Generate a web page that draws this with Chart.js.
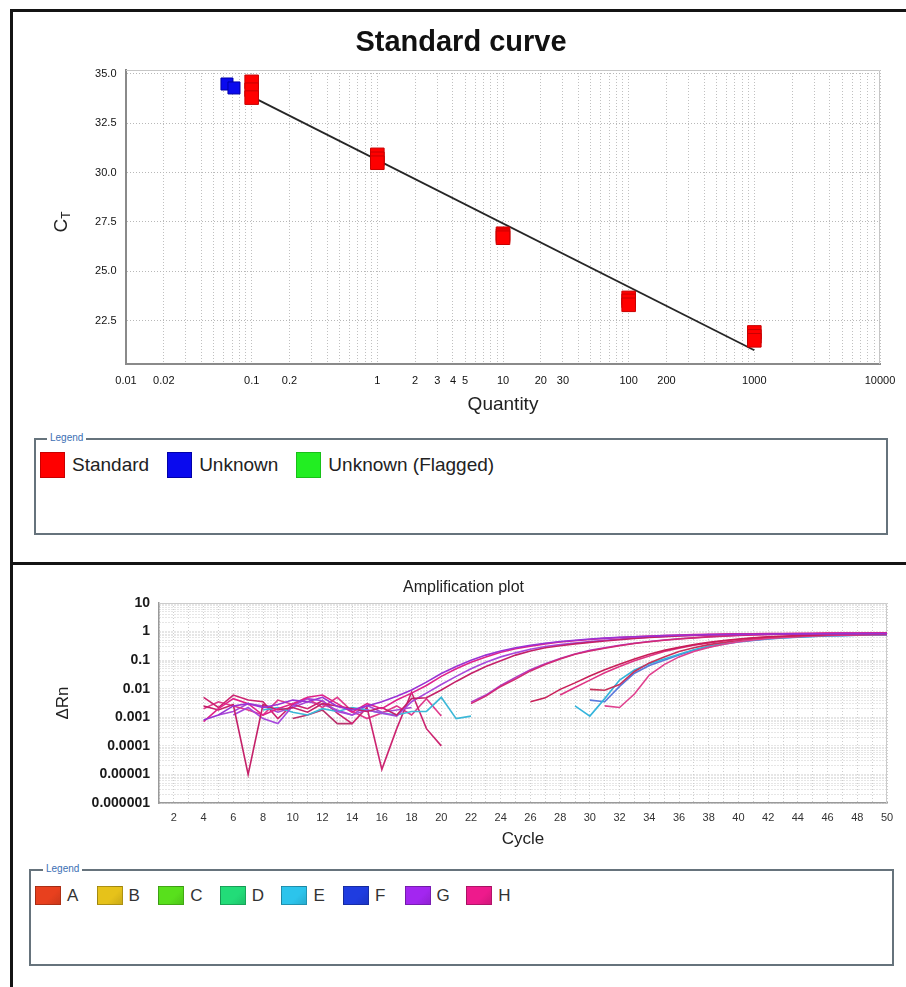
<!DOCTYPE html>
<html>
<head>
<meta charset="utf-8">
<title>Standard curve / Amplification plot</title>
<script src="https://cdn.jsdelivr.net/npm/chart.js@4.4.1/dist/chart.umd.min.js"></script>
<style>
  body { margin: 0; width: 906px; height: 987px; overflow: hidden; position: relative; background: #fff;
         font-family: "Liberation Sans", Arial, sans-serif; color: #222; }
  .rule { position: absolute; background: #141414; }
  canvas { position: absolute; left: 0; }
  .legendBox { position: absolute; box-sizing: border-box; border: 2px solid #66737c; }
  .legendCaption { position: absolute; background: #fff; padding: 0 3px; font-size: 10px; line-height: 12px; color: #3c6fb4; }
  .legendRow { position: absolute; display: flex; align-items: center; }
  .swatch { display: inline-block; box-sizing: border-box; }
</style>
</head>
<body>
<div class="rule" style="left:10px; top:9px; width:896px; height:3px;"></div>
<div class="rule" style="left:10px; top:9px; width:3px; height:978px;"></div>
<div class="rule" style="left:10px; top:562px; width:896px; height:3px;"></div>

<canvas id="stdChart" width="906" height="420" style="top:0;"></canvas>
<canvas id="ampChart" width="906" height="290" style="top:566px;"></canvas>

<div class="legendBox" style="left:34px; top:438px; width:854px; height:97px;"></div>
<div class="legendCaption" style="left:47px; top:432px;">Legend</div>
<div class="legendRow" id="stdLegend" style="left:40px; top:452px; height:26px;"></div>

<div class="legendBox" style="left:29px; top:869px; width:865px; height:97px;"></div>
<div class="legendCaption" style="left:43px; top:863px;">Legend</div>
<div id="ampLegend"></div>

<script>
// ---- standard curve data ----
const stdQuantity = [0.1, 0.1, 0.1, 1, 1, 1, 10, 10, 10, 100, 100, 100, 1000, 1000, 1000];
const stdCt = [34.6, 34.2, 33.8, 30.9, 30.7, 30.5, 26.9, 26.8, 26.7, 23.65, 23.5, 23.3, 21.9, 21.7, 21.5];
const unkQuantity = [0.0636, 0.0723];
const unkCt = [34.49, 34.29];
const fitQuantity = [0.1, 1000];
const fitCt = [33.85, 21.0];

const sampleTypes = ['Standard', 'Unknown', 'Unknown (Flagged)'];
const sampleColors = ['#ff0000', '#0a0aee', '#22ee22'];
const sampleEdges = ['#c80000', '#0000a8', '#18c018'];

const ctTicks = [22.5, 25.0, 27.5, 30.0, 32.5, 35.0];
const qtyLabelValues = [0.01, 0.02, 0.1, 0.2, 1, 2, 3, 4, 5, 10, 20, 30, 100, 200, 1000, 10000];
const qtyLabelText = ['0.01', '0.02', '0.1', '0.2', '1', '2', '3', '4', '5', '10', '20', '30', '100', '200', '1000', '10000'];

// ---- amplification data (delta Rn per cycle, starting at ampStart) ----
const rnG1 = [0.0008, 0.0012, 0.0025, 0.003, 0.0022, 0.0028, 0.004, 0.0035, 0.005, 0.0024, 0.0018, 0.0025, 0.0035, 0.0055, 0.009, 0.017, 0.034, 0.06, 0.1, 0.15, 0.21, 0.27, 0.33, 0.39, 0.45, 0.5, 0.55, 0.59, 0.63, 0.66, 0.69, 0.72, 0.74, 0.76, 0.78, 0.79, 0.8, 0.81, 0.82, 0.83, 0.83, 0.84, 0.84, 0.85, 0.85, 0.86, 0.86];
const rnH1 = [0.0007, 0.002, 0.0045, 0.003, 0.0012, 0.002, 0.003, 0.005, 0.006, 0.003, 0.0015, 0.003, 0.002, 0.004, 0.007, 0.013, 0.027, 0.05, 0.085, 0.13, 0.19, 0.25, 0.31, 0.37, 0.43, 0.48, 0.53, 0.58, 0.62, 0.66, 0.7, 0.73, 0.76, 0.78, 0.8, 0.82, 0.83, 0.84, 0.85, 0.86, 0.87, 0.87, 0.88, 0.88, 0.89, 0.89, 0.9];
const rnH2 = [0.0025, 0.0018, 0.0028, 0.00001, 0.0028, 0.0018, 0.0022, 0.0015, 0.003, 0.0025, 0.002, 0.0016, 0.0022, 0.0012, 0.0045, 0.0048, 0.009, 0.018, 0.034, 0.06, 0.095, 0.15, 0.21, 0.27, 0.32, 0.37, 0.42, 0.47, 0.52, 0.57, 0.62, 0.66, 0.7, 0.73, 0.76, 0.78, 0.8, 0.81, 0.82, 0.83, 0.84, 0.84, 0.85, 0.85, 0.86, 0.86, 0.86];
const rnG2 = [0.0012, 0.0022, 0.0009, 0.0006, 0.0025, 0.0045, 0.0038, 0.0016, 0.0012, 0.0018, 0.0014, 0.0011, 0.0035, 0.007, 0.014, 0.027, 0.05, 0.085, 0.13, 0.18, 0.24, 0.3, 0.35, 0.4, 0.45, 0.5, 0.55, 0.6, 0.64, 0.68, 0.72, 0.75, 0.77, 0.79, 0.8, 0.81, 0.82, 0.82, 0.83, 0.83, 0.84, 0.84, 0.84, 0.85, 0.85];
const rnH3 = [0.003, 0.0055, 0.012, 0.022, 0.042, 0.07, 0.11, 0.16, 0.21, 0.26, 0.32, 0.38, 0.44, 0.5, 0.55, 0.6, 0.65, 0.69, 0.73, 0.76, 0.79, 0.81, 0.83, 0.84, 0.85, 0.86, 0.86, 0.87, 0.87];
const rnG3 = [0.0034, 0.006, 0.013, 0.025, 0.046, 0.075, 0.115, 0.165, 0.22, 0.27, 0.33, 0.39, 0.45, 0.51, 0.56, 0.61, 0.66, 0.7, 0.74, 0.77, 0.8, 0.82, 0.84, 0.85, 0.86, 0.87, 0.87, 0.88, 0.88];
const rnH4 = [0.0035, 0.0048, 0.0095, 0.016, 0.028, 0.046, 0.072, 0.11, 0.16, 0.22, 0.28, 0.35, 0.42, 0.49, 0.55, 0.6, 0.65, 0.69, 0.72, 0.75, 0.77, 0.79, 0.8, 0.81, 0.82];
const rnH5 = [0.006, 0.011, 0.02, 0.036, 0.06, 0.095, 0.14, 0.2, 0.26, 0.33, 0.4, 0.47, 0.53, 0.59, 0.64, 0.68, 0.72, 0.75, 0.77, 0.79, 0.8, 0.81, 0.82];
const rnH6 = [0.0025, 0.0022, 0.0065, 0.03, 0.07, 0.13, 0.2, 0.28, 0.36, 0.44, 0.51, 0.57, 0.62, 0.66, 0.7, 0.73, 0.75, 0.77, 0.78, 0.79];
const rnH7 = [0.0095, 0.0088, 0.014, 0.04, 0.08, 0.13, 0.2, 0.27, 0.35, 0.42, 0.49, 0.55, 0.6, 0.64, 0.68, 0.71, 0.74, 0.76, 0.78, 0.79, 0.8];
const rnE1 = [0.0018, 0.0022, 0.0015, 0.0012, 0.002, 0.0016, 0.0022, 0.0018, 0.0014, 0.0012, 0.0016, 0.0016, 0.005, 0.0009, 0.0011];
const rnE2 = [0.0025, 0.0011, 0.0045, 0.02, 0.045, 0.075, 0.11, 0.16, 0.23, 0.31, 0.38, 0.45, 0.51, 0.56, 0.61, 0.65, 0.68, 0.71, 0.73, 0.75, 0.76, 0.77];
const rnF1 = [0.004, 0.0035, 0.012, 0.035, 0.065, 0.1, 0.15, 0.22, 0.29, 0.36, 0.43, 0.49, 0.55, 0.6, 0.64, 0.67, 0.7, 0.72, 0.74, 0.75, 0.76];
const rnH8 = [0.005, 0.0022, 0.006, 0.004, 0.0035, 0.0009, 0.0028, 0.002, 0.0038, 0.0014, 0.0006, 0.0022, 0.000015, 0.0004, 0.0075, 0.0004, 0.0001];
const rnH9 = [0.0009, 0.0012, 0.0018, 0.0006, 0.0006];
const rnH10 = [0.002, 0.0035, 0.0025, 0.0018, 0.0012, 0.004, 0.0028, 0.0045, 0.0022, 0.005, 0.0016, 0.0009, 0.0014, 0.0025, 0.0012, 0.0045, 0.0011];
const rnG4 = [0.0012, 0.0016, 0.003, 0.0025, 0.0015, 0.0022, 0.0035, 0.0028, 0.0018, 0.0012, 0.0026, 0.0015, 0.0018, 0.0022];

const ampWells = ['G1', 'H1', 'H2', 'G2', 'H3', 'G3', 'H4', 'H5', 'H6', 'H7', 'E1', 'E2', 'F1', 'H8', 'H9', 'H10', 'G4'];
const ampStart = [4, 4, 4, 6, 22, 22, 26, 28, 31, 30, 8, 29, 30, 4, 10, 4, 5];
const ampValues = [rnG1, rnH1, rnH2, rnG2, rnH3, rnG3, rnH4, rnH5, rnH6, rnH7, rnE1, rnE2, rnF1, rnH8, rnH9, rnH10, rnG4];
const ampColors = ['#9a32d4', '#e0228a', '#c42068', '#a648dc', '#d22a74', '#b23ac6', '#c81e58', '#de3484',
                   '#e0408e', '#c8305a', '#3cb8d8', '#34b4dc', '#5a78dc', '#cc2470', '#b8306a', '#e03a8c', '#a84ad6'];

const wellRows = ['A', 'B', 'C', 'D', 'E', 'F', 'G', 'H'];
const rowColors = ['#e8401e', '#e6c21a', '#58e01c', '#22dc78', '#2cc4ec', '#1f3ce0', '#a326f0', '#ee1a8c'];

const ampYLabelValues = [10, 1, 0.1, 0.01, 0.001, 0.0001, 0.00001, 0.000001];
const ampYLabelText = ['10', '1', '0.1', '0.01', '0.001', '0.0001', '0.00001', '0.000001'];

Chart.defaults.font.family = '"Liberation Sans", Arial, sans-serif';
Chart.defaults.color = '#222';

function matchLabel(v, values, texts) {
  const i = values.findIndex(t => Math.abs(v - t) / t < 1e-6);
  return i >= 0 ? texts[i] : '';
}

// 1..9 x 10^k grid positions for the log axes
function logGrid(kFrom, kTo, last) {
  const out = [];
  for (let k = kFrom; k <= kTo; k++) {
    for (let m = 1; m <= 9; m++) out.push(Number((m * Math.pow(10, k)).toPrecision(6)));
  }
  out.push(last);
  return out;
}

// light frame on top and right side of the plot
const plotFrame = {
  id: 'plotFrame',
  beforeDatasetsDraw(chart, args, opts) {
    const {ctx, chartArea: a} = chart;
    ctx.save();
    ctx.strokeStyle = opts.color || '#c8c8c8';
    ctx.lineWidth = 1;
    ctx.beginPath();
    ctx.moveTo(a.left, Math.round(a.top) + 0.5);
    ctx.lineTo(Math.round(a.right) - 0.5, Math.round(a.top) + 0.5);
    ctx.lineTo(Math.round(a.right) - 0.5, a.bottom);
    ctx.stroke();
    ctx.restore();
  }
};

// "C" with subscript "T" as y axis title
const ctAxisTitle = {
  id: 'ctAxisTitle',
  afterDraw(chart) {
    const {ctx, chartArea: a} = chart;
    const fam = '"Liberation Sans", Arial, sans-serif';
    ctx.save();
    ctx.translate(a.left - 64, (a.top + a.bottom) / 2 + 5);
    ctx.rotate(-Math.PI / 2);
    ctx.fillStyle = '#222';
    ctx.textBaseline = 'middle';
    ctx.textAlign = 'left';
    ctx.font = '19px ' + fam;
    const wC = ctx.measureText('C').width;
    ctx.font = '12px ' + fam;
    const wT = ctx.measureText('T').width;
    const start = -(wC + wT) / 2;
    ctx.font = '19px ' + fam;
    ctx.fillText('C', start, 0);
    ctx.font = '12px ' + fam;
    ctx.fillText('T', start + wC, 5);
    ctx.restore();
  }
};

function drawStandardCurve() {
  const ctx = document.getElementById('stdChart');
  const qtyGrid = logGrid(-2, 3, 10000);

  new Chart(ctx, {
    type: 'scatter',
    data: {
      datasets: [
        {
          label: sampleTypes[0],
          data: stdQuantity.map((q, i) => ({x: q, y: stdCt[i]})),
          pointStyle: 'rect', pointRadius: 9.6,
          backgroundColor: sampleColors[0], borderColor: sampleEdges[0], borderWidth: 1,
          order: 1
        },
        {
          label: sampleTypes[1],
          data: unkQuantity.map((q, i) => ({x: q, y: unkCt[i]})),
          pointStyle: 'rect', pointRadius: 8.5,
          backgroundColor: sampleColors[1], borderColor: sampleEdges[1], borderWidth: 1,
          order: 0
        },
        {
          label: sampleTypes[2],
          data: [],
          backgroundColor: sampleColors[2]
        },
        {
          type: 'line',
          label: 'Fit',
          data: fitQuantity.map((q, i) => ({x: q, y: fitCt[i]})),
          borderColor: '#262626', borderWidth: 1.8, pointRadius: 0,
          order: 3
        }
      ]
    },
    options: {
      responsive: false,
      animation: false,
      layout: {padding: {left: 42, right: 26, top: 0, bottom: 0}},
      plugins: {
        legend: {display: false},
        tooltip: {enabled: false},
        title: {
          display: true, text: 'Standard curve', color: '#111',
          font: {size: 29, weight: 'bold'},
          padding: {top: 25.6, bottom: 9.6}
        },
        plotFrame: {color: '#c6c6c6'}
      },
      scales: {
        x: {
          type: 'logarithmic', min: 0.01, max: 10000,
          afterBuildTicks: s => { s.ticks = qtyGrid.map(v => ({value: v})); },
          afterFit: s => { s.height = 56; },
          ticks: {
            autoSkip: false, maxRotation: 0, padding: 10.5,
            font: {size: 11}, color: '#111',
            callback: v => matchLabel(v, qtyLabelValues, qtyLabelText)
          },
          grid: {color: '#c0c0c0', drawTicks: false},
          border: {color: '#8a8a8a', width: 2, dash: [1, 2]},
          title: {display: true, text: 'Quantity', color: '#222', font: {size: 19}, padding: {top: 0, bottom: 3.6}}
        },
        y: {
          min: 20.3, max: 35.2,
          afterBuildTicks: s => { s.ticks = ctTicks.map(v => ({value: v})); },
          afterFit: s => { s.width = 84; },
          ticks: {padding: 9.5, font: {size: 11}, color: '#111', callback: v => v.toFixed(1)},
          grid: {color: '#b8b8b8', drawTicks: false},
          border: {color: '#8a8a8a', width: 2, dash: [1, 2]}
        }
      }
    },
    plugins: [plotFrame, ctAxisTitle]
  });
}

function drawAmplification() {
  const ctx = document.getElementById('ampChart');
  const cycleGrid = [];
  for (let c = 1; c <= 50; c++) cycleGrid.push(c);
  const rnGrid = logGrid(-6, 0, 10);

  new Chart(ctx, {
    type: 'line',
    data: {
      datasets: ampWells.map((w, i) => ({
        label: w,
        data: ampValues[i].map((v, j) => ({x: ampStart[i] + j, y: v})),
        borderColor: ampColors[i],
        borderWidth: 1.6,
        pointRadius: 0,
        tension: 0,
        fill: false
      }))
    },
    options: {
      responsive: false,
      animation: false,
      layout: {padding: {left: 40, right: 19, top: 0, bottom: 0}},
      plugins: {
        legend: {display: false},
        tooltip: {enabled: false},
        title: {
          display: true, text: 'Amplification plot', color: '#222',
          font: {size: 16, weight: 'normal'},
          padding: {top: 12.4, bottom: 5.4}
        },
        plotFrame: {color: '#cccccc'}
      },
      scales: {
        x: {
          type: 'linear', min: 1, max: 50,
          afterBuildTicks: s => { s.ticks = cycleGrid.map(v => ({value: v})); },
          afterFit: s => { s.height = 53; },
          ticks: {
            autoSkip: false, maxRotation: 0, padding: 8,
            font: {size: 11}, color: '#333',
            callback: v => (v % 2 === 0 ? String(v) : '')
          },
          grid: {color: '#cdcdcd', drawTicks: false},
          border: {color: '#9a9a9a', width: 1.5, dash: [1, 2]},
          title: {display: true, text: 'Cycle', color: '#222', font: {size: 17}, padding: {top: 0, bottom: 6.3}}
        },
        y: {
          type: 'logarithmic', min: 0.000001, max: 10,
          afterBuildTicks: s => { s.ticks = rnGrid.map(v => ({value: v})); },
          afterFit: s => { s.width = 119; },
          ticks: {
            autoSkip: false, padding: 9,
            font: {size: 14, weight: 'bold'}, color: '#1a1a1a',
            callback: v => matchLabel(v, ampYLabelValues, ampYLabelText)
          },
          grid: {color: '#cdcdcd', drawTicks: false},
          border: {color: '#9a9a9a', width: 1.5, dash: [1, 2]},
          title: {display: true, text: 'ΔRn', color: '#222', font: {size: 17}, padding: {top: 12.8, bottom: 0}}
        }
      }
    },
    plugins: [plotFrame]
  });
}

function buildLegends() {
  const stdBox = document.getElementById('stdLegend');
  sampleTypes.forEach((name, i) => {
    const sw = document.createElement('span');
    sw.className = 'swatch';
    sw.style.cssText = `width:25px;height:26px;margin-right:7px;background:${sampleColors[i]};border:1px solid ${sampleEdges[i]};`;
    const tx = document.createElement('span');
    tx.textContent = name;
    tx.style.cssText = 'font-size:19px;line-height:26px;margin-right:18px;color:#222;';
    stdBox.appendChild(sw);
    stdBox.appendChild(tx);
  });

  const ampBox = document.getElementById('ampLegend');
  wellRows.forEach((row, i) => {
    const x = 35 + i * 61.6;
    const sw = document.createElement('div');
    sw.style.cssText = `position:absolute;left:${x}px;top:886px;width:26px;height:19px;box-sizing:border-box;` +
      `border:1px solid rgba(0,0,0,0.25);background:linear-gradient(135deg, ${rowColors[i]} 0%, ${rowColors[i]} 60%, rgba(0,0,0,0.12) 100%), ${rowColors[i]};`;
    const tx = document.createElement('div');
    tx.textContent = row;
    tx.style.cssText = `position:absolute;left:${x + 32}px;top:886px;font-size:17px;line-height:19px;color:#333;`;
    ampBox.appendChild(sw);
    ampBox.appendChild(tx);
  });
}

window.addEventListener('load', () => {
  drawStandardCurve();
  drawAmplification();
  buildLegends();
});
</script>
</body>
</html>
